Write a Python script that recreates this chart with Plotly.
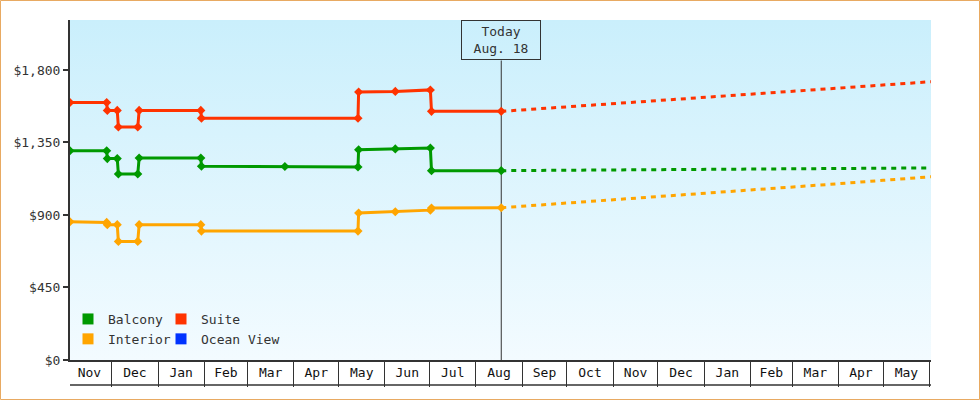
import base64
import plotly.graph_objects as go

# observed prices (shared dates for Suite / Interior, Balcony has one extra check)
hist_dates = ["2023-11-03", "2023-11-27 14:00", "2023-11-28", "2023-12-04 16:00",
              "2023-12-05 10:00", "2023-12-18 10:00", "2023-12-19 08:00",
              "2024-01-29 16:00", "2024-01-30 02:00", "2024-05-14", "2024-05-14 10:00",
              "2024-06-08", "2024-07-01 12:00", "2024-07-02 06:00", "2024-08-18"]
balcony_dates = ["2023-11-03", "2023-11-27 14:00", "2023-11-28", "2023-12-04 16:00",
                 "2023-12-05 10:00", "2023-12-18 10:00", "2023-12-19 08:00",
                 "2024-01-29 16:00", "2024-01-30 02:00", "2024-03-26", "2024-05-14",
                 "2024-05-14 10:00", "2024-06-08", "2024-07-01 12:00", "2024-07-02 06:00",
                 "2024-08-18"]

suite_hist = [1598, 1598, 1549, 1549, 1446, 1446, 1549, 1549, 1500, 1500, 1663, 1667, 1676, 1543, 1543]
balcony_hist = [1299, 1299, 1250, 1250, 1154, 1154, 1254, 1254, 1202, 1201, 1198, 1305, 1310, 1316, 1175, 1175]
interior_hist = [858, 854, 840, 840, 736, 736, 840, 840, 800, 800, 912, 920, 930, 943, 945]
ocean_view_hist = []

# projected prices
forecast_dates = ["2024-08-18", "2024-09-01", "2024-10-01", "2024-11-01", "2024-12-01",
                  "2025-01-01", "2025-02-01", "2025-03-01", "2025-04-01", "2025-05-01",
                  "2025-06-02"]
suite_forecast = [1543, 1552, 1571, 1590, 1609, 1628, 1648, 1666, 1686, 1706, 1727]
balcony_forecast = [1175, 1176, 1178, 1180, 1181, 1183, 1185, 1187, 1188, 1190, 1192]
interior_forecast = [945, 954, 973, 993, 1013, 1033, 1054, 1073, 1094, 1115, 1137]

y_ticks = [0, 450, 900, 1350, 1800]
y_tick_labels = ["$0", "$450", "$900", "$1,350", "$1,800"]
today = "2024-08-18"
today_text = "Today<br>Aug. 18"

FONT = "DejaVu Sans Mono"
INK = "#333333"

series = [
    ("Balcony", "#009900", balcony_dates, balcony_hist, balcony_forecast, "legend"),
    ("Suite", "#ff3300", hist_dates, suite_hist, suite_forecast, "legend2"),
    ("Interior", "#ffa500", hist_dates, interior_hist, interior_forecast, "legend"),
    ("Ocean View", "#0033ff", [], ocean_view_hist, [], "legend2"),
]

fig = go.Figure()

for name, color, dates, hist, fc, leg in series:
    if hist:
        fig.add_trace(go.Scatter(
            x=dates, y=hist, mode="lines+markers", showlegend=False,
            line=dict(color=color, width=3),
            marker=dict(symbol="diamond", size=7, color=color),
            hoverinfo="skip",
        ))
        fig.add_trace(go.Scatter(
            x=forecast_dates, y=fc, mode="lines", showlegend=False,
            line=dict(color=color, width=3, dash="5px,5px"),
            hoverinfo="skip",
        ))

# legend-only entries with square swatches
for leg in ["legend", "legend2"]:
    for name, color, dates, hist, fc, l in series:
        if l != leg:
            continue
        fig.add_trace(go.Scatter(
            x=[None], y=[None], mode="markers", name=name, legend=leg,
            marker=dict(symbol="square", size=11, color=color),
        ))

# soft vertical gradient behind the plot
svg = ('<svg xmlns="http://www.w3.org/2000/svg" width="10" height="100" '
       'viewBox="0 0 10 100" preserveAspectRatio="none">'
       '<defs><linearGradient id="g" x1="0" y1="0" x2="0" y2="1">'
       '<stop offset="0" stop-color="#caeffc"/><stop offset="1" stop-color="#f3fbff"/>'
       '</linearGradient></defs><rect width="10" height="100" fill="url(#g)"/></svg>')
bg_src = "data:image/svg+xml;base64," + base64.b64encode(svg.encode()).decode()

W, H = 980, 400
L, R, T, B = 70, 49, 20, 40
pw, ph = W - L - R, H - T - B

fig.update_layout(
    width=W, height=H,
    margin=dict(l=L, r=R, t=T, b=B),
    paper_bgcolor="white",
    plot_bgcolor="rgba(0,0,0,0)",
    font=dict(family=FONT, size=13, color=INK),
    images=[dict(source=bg_src, xref="paper", yref="paper", x=0, y=1,
                 sizex=1, sizey=1, xanchor="left", yanchor="top",
                 sizing="stretch", layer="below")],
    legend=dict(x=(68 - L) / pw, y=(360 - 354) / ph, xanchor="left", yanchor="bottom",
                bgcolor="rgba(0,0,0,0)", itemwidth=30, tracegroupgap=0,
                font=dict(family=FONT, size=13, color=INK)),
    legend2=dict(x=(161 - L) / pw, y=(360 - 354) / ph, xanchor="left", yanchor="bottom",
                 bgcolor="rgba(0,0,0,0)", itemwidth=30, tracegroupgap=0,
                 font=dict(family=FONT, size=13, color=INK)),
    xaxis=dict(
        type="date", range=["2023-11-03", "2025-06-02"],
        tick0="2023-11-01", dtick="M1", tickformat="%b",
        ticklabelmode="period", ticks="outside", ticklen=25, tickwidth=1,
        tickcolor=INK, ticklabelstandoff=-25,
        showgrid=False, zeroline=False,
        showline=True, linecolor=INK, linewidth=1.5,
        tickfont=dict(family=FONT, size=13, color="#111111"),
    ),
    yaxis=dict(
        range=[0, 2110], tickvals=y_ticks, ticktext=y_tick_labels,
        ticks="outside", ticklen=5, tickwidth=2, tickcolor=INK,
        showgrid=False, zeroline=False,
        showline=True, linecolor=INK, linewidth=2,
    ),
    shapes=[
        # today marker line
        dict(type="line", xref="x", yref="paper", x0=today, x1=today,
             y0=0, y1=(360 - 60.5) / ph, line=dict(color=INK, width=1), layer="below"),
        # bottom edge of the month boxes
        dict(type="line", xref="paper", yref="paper", x0=0, x1=1,
             y0=-25 / ph, y1=-25 / ph, line=dict(color=INK, width=1.5)),
        # outer frame
        dict(type="rect", xref="paper", yref="paper",
             x0=(0.5 - L) / pw, x1=(W - 0.5 - L) / pw,
             y0=(360 - (H - 0.5)) / ph, y1=(360 - 0.5) / ph,
             line=dict(color="#e8aa62", width=1)),
    ],
    annotations=[
        dict(text=today_text, x=today, xref="x", y=1, yref="paper",
             xanchor="center", yanchor="top", showarrow=False,
             width=74, height=34, borderpad=2, bordercolor=INK, borderwidth=1,
             font=dict(family=FONT, size=13, color=INK)),
    ],
)

fig.write_html("out.html", config={"displayModeBar": False},
               post_script="document.body.style.margin = '0';")
